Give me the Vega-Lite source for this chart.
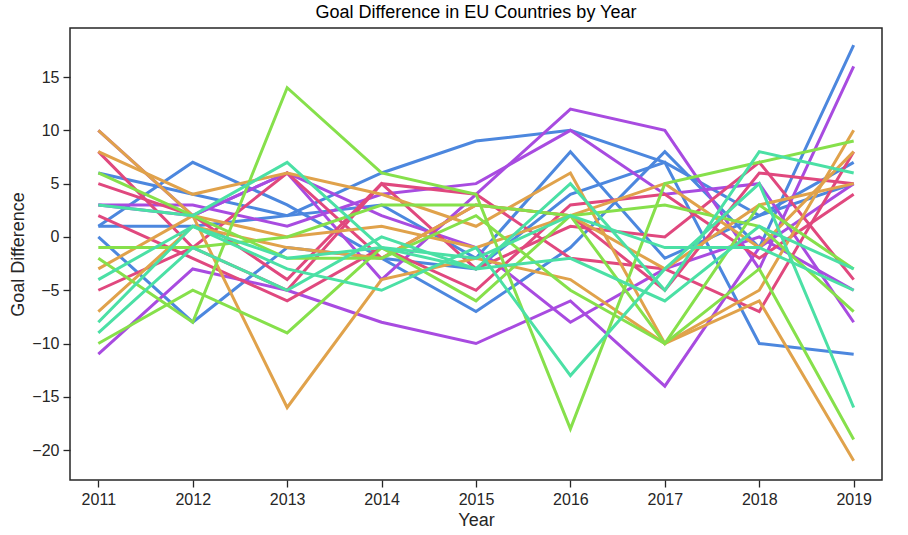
{
  "$schema": "https://vega.github.io/schema/vega-lite/v6.json",
  "autosize": "none",
  "padding": {"left": 70, "top": 28, "right": 26, "bottom": 55},
  "width": 812,
  "height": 452,
  "title": {"text": "Goal Difference in EU Countries by Year", "fontSize": 18, "fontWeight": "normal", "font": "Liberation Sans", "offset": 6},
  "data": {"values": [
    {"s":"B1","g":"blue","2011":6,"2012":4,"2013":2,"2014":6,"2015":9,"2016":10,"2017":7,"2018":2,"2019":7},
    {"s":"B2","g":"blue","2011":1,"2012":7,"2013":3,"2014":-2,"2015":-7,"2016":-1,"2017":8,"2018":-1,"2019":18},
    {"s":"B3","g":"blue","2011":0,"2012":-8,"2013":-1,"2014":-2,"2015":-3,"2016":4,"2017":7,"2018":-10,"2019":-11},
    {"s":"B4","g":"blue","2011":1,"2012":1,"2013":2,"2014":3,"2015":-2,"2016":8,"2017":-2,"2018":2,"2019":5},
    {"s":"P1","g":"purple","2011":10,"2012":2,"2013":6,"2014":-4,"2015":4,"2016":12,"2017":10,"2018":-3,"2019":16},
    {"s":"P2","g":"purple","2011":3,"2012":3,"2013":1,"2014":4,"2015":5,"2016":10,"2017":4,"2018":5,"2019":-8},
    {"s":"P3","g":"purple","2011":-11,"2012":-3,"2013":-5,"2014":-8,"2015":-10,"2016":-6,"2017":-14,"2018":-1,"2019":5},
    {"s":"P4","g":"purple","2011":3,"2012":2,"2013":6,"2014":2,"2015":-1,"2016":-8,"2017":-3,"2018":0,"2019":-5},
    {"s":"K1","g":"pink","2011":8,"2012":-1,"2013":-5,"2014":5,"2015":-3,"2016":1,"2017":0,"2018":7,"2019":-4},
    {"s":"K2","g":"pink","2011":5,"2012":2,"2013":-4,"2014":5,"2015":4,"2016":-2,"2017":-3,"2018":-7,"2019":8},
    {"s":"K3","g":"pink","2011":2,"2012":-2,"2013":-6,"2014":-1,"2015":-5,"2016":3,"2017":4,"2018":-2,"2019":4},
    {"s":"K4","g":"pink","2011":-5,"2012":-1,"2013":6,"2014":-2,"2015":3,"2016":2,"2017":-5,"2018":6,"2019":5},
    {"s":"O1","g":"orange","2011":8,"2012":4,"2013":6,"2014":4,"2015":1,"2016":6,"2017":-10,"2018":-5,"2019":10},
    {"s":"O2","g":"orange","2011":10,"2012":2,"2013":-16,"2014":-4,"2015":-2,"2016":-4,"2017":-10,"2018":-6,"2019":-21},
    {"s":"O3","g":"orange","2011":-3,"2012":2,"2013":0,"2014":1,"2015":-1,"2016":2,"2017":5,"2018":-1,"2019":8},
    {"s":"O4","g":"orange","2011":-7,"2012":1,"2013":-1,"2014":-2,"2015":3,"2016":2,"2017":-3,"2018":3,"2019":5},
    {"s":"G1","g":"green","2011":-2,"2012":-8,"2013":14,"2014":6,"2015":4,"2016":-18,"2017":5,"2018":7,"2019":9},
    {"s":"G2","g":"green","2011":6,"2012":2,"2013":-2,"2014":-2,"2015":2,"2016":-5,"2017":-10,"2018":-3,"2019":-19},
    {"s":"G3","g":"green","2011":-1,"2012":-1,"2013":0,"2014":3,"2015":3,"2016":2,"2017":3,"2018":1,"2019":-7},
    {"s":"G4","g":"green","2011":-10,"2012":-5,"2013":-9,"2014":-1,"2015":-6,"2016":2,"2017":-10,"2018":3,"2019":-3},
    {"s":"T1","g":"teal","2011":3,"2012":2,"2013":7,"2014":-1,"2015":-3,"2016":5,"2017":-5,"2018":8,"2019":6},
    {"s":"T2","g":"teal","2011":-8,"2012":1,"2013":-3,"2014":-5,"2015":-1,"2016":-13,"2017":-3,"2018":5,"2019":-16},
    {"s":"T3","g":"teal","2011":-9,"2012":-1,"2013":-5,"2014":0,"2015":-3,"2016":-2,"2017":-6,"2018":1,"2019":-3},
    {"s":"T4","g":"teal","2011":-4,"2012":1,"2013":-2,"2014":-1,"2015":-2,"2016":2,"2017":-1,"2018":-1,"2019":-5}
  ]},
  "transform": [
    {"fold": ["2011","2012","2013","2014","2015","2016","2017","2018","2019"], "as": ["Year", "v"]}
  ],
  "mark": {"type": "line", "strokeWidth": 3},
  "encoding": {
    "x": {"field": "Year", "type": "ordinal", "scale": {"type": "point", "padding": 0.3},
      "axis": {"labelAngle": 0}},
    "y": {"field": "v", "type": "quantitative", "title": "Goal Difference", "scale": {"domain": [-22.8, 19.6], "nice": false, "zero": false},
      "axis": {"values": [-20,-15,-10,-5,0,5,10,15]}},
    "detail": {"field": "s"},
    "color": {"field": "g", "type": "nominal", "legend": null, "scale": {"domain": ["blue","purple","pink","orange","green","teal"], "range": ["#4c87de","#a84be0","#e0487e","#e0a24b","#86e04b","#4be0a5"]}}
  },
  "config": {
    "font": "Liberation Sans",
    "view": {"stroke": "#262626", "strokeWidth": 1.5},
    "axis": {"grid": false, "domain": false, "ticks": true, "tickSize": 7, "tickColor": "#262626", "tickWidth": 1.3,
      "labelFontSize": 16, "labelColor": "#262626", "titleFontSize": 18, "titleFontWeight": "normal", "titleColor": "#262626", "labelPadding": 4}
  }
}
